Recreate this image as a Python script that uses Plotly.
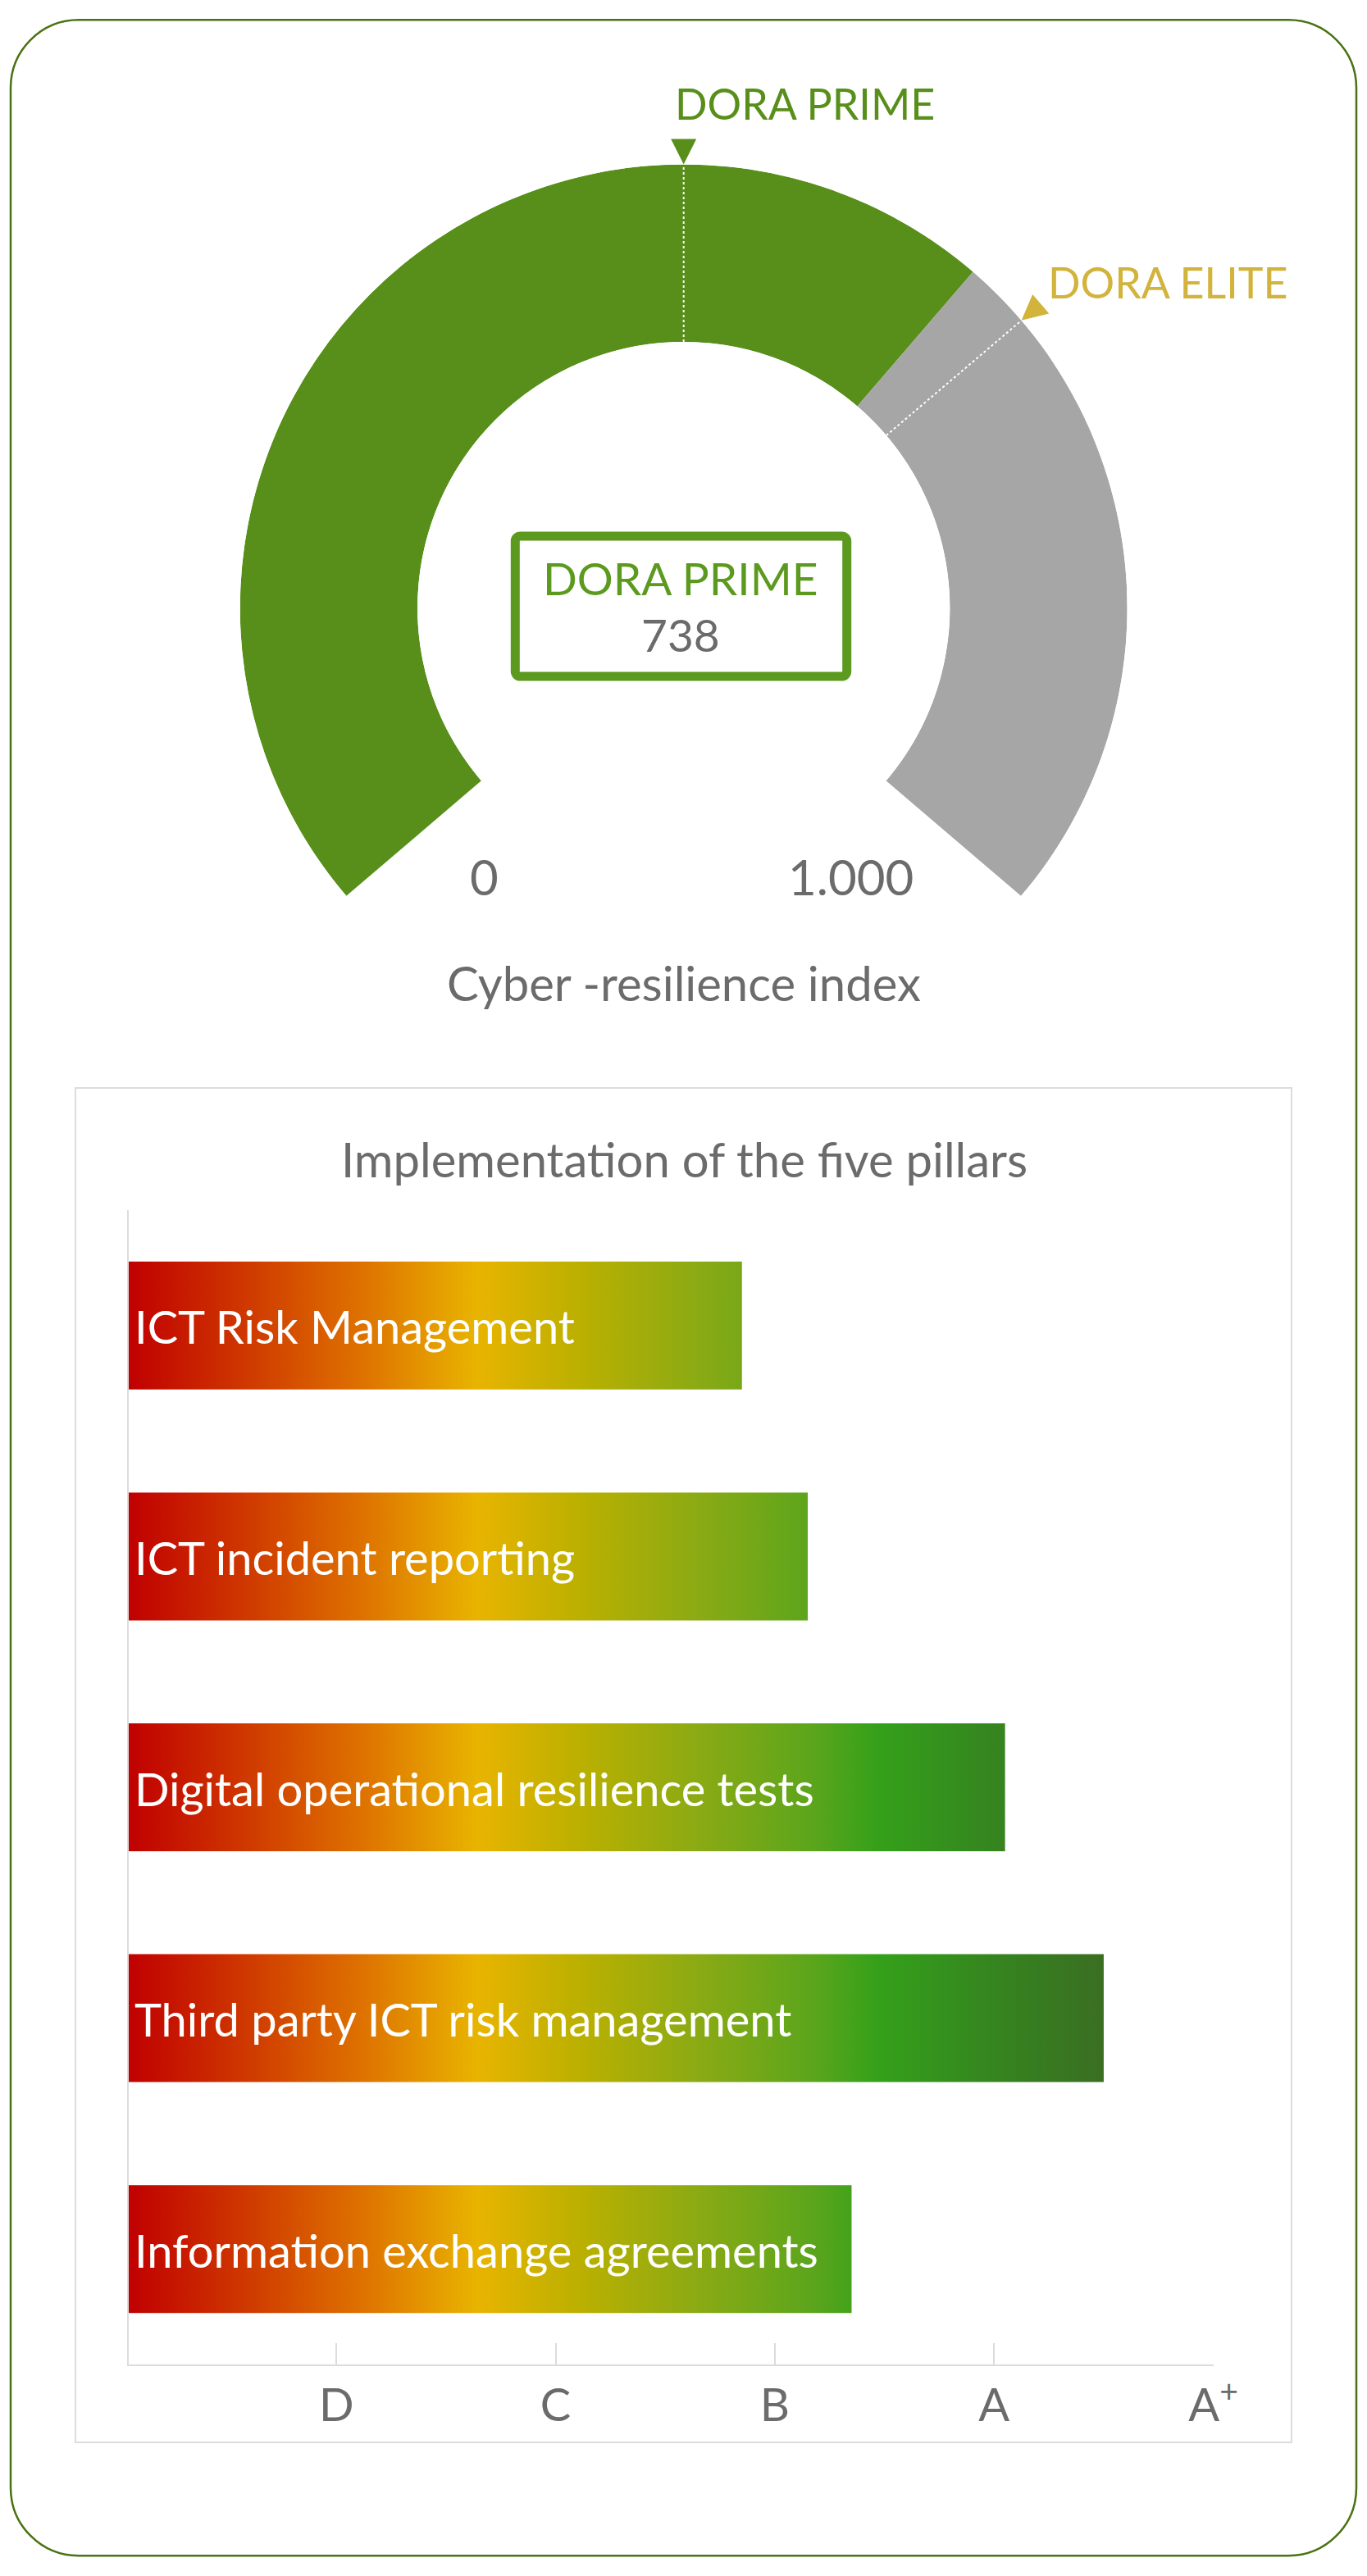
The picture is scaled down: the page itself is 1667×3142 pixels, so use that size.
import plotly.graph_objects as go

# ---------------- data ----------------
gauge_min = 0
gauge_max = 1000
score = 738
score_label = "DORA PRIME"
gauge_fill_end = 656          # extent of the green arc as drawn
prime_threshold = 500
elite_threshold = 690
prime_label = "DORA PRIME"
elite_label = "DORA ELITE"
gauge_axis_labels = ["0", "1.000"]
gauge_title = "Cyber -resilience index"

pillars = [
    "ICT Risk Management",
    "ICT incident reporting",
    "Digital operational resilience tests",
    "Third party ICT risk management",
    "Information exchange agreements",
]
pillar_scores = [2.85, 3.15, 4.05, 4.50, 3.35]
grade_vals = [1, 2, 3, 4, 5]
grade_labels = ["D", "C", "B", "A", "A<sup>+</sup>"]
bars_title = "Implementation of the five pillars"

# ---------------- style ----------------
W, H = 1667, 3142
FONT = "Lato"
GREEN = "#588f1a"
BOX_GREEN = "#5c9a1f"
GRAY = "#a6a6a6"
GOLD = "#d2b33c"
TXT = "#6b6b6b"
BORDER = "#4a7212"
PANEL = "#dcdcdc"

GAUGE_START = 220.5   # math angle (deg) of gauge_min
GAUGE_SPAN = 261.0    # degrees covered by gauge


def px(x):
    return x / W


def py(y):
    return 1 - y / H


def th(v):
    return (v - gauge_min) * GAUGE_SPAN / (gauge_max - gauge_min)


def rounded_rect(x0, y0, x1, y1, r):
    k = 0.5523

    def P(x, y):
        return f"{px(x):.6f},{py(y):.6f}"
    d = f"M{P(x0 + r, y0)} L{P(x1 - r, y0)} "
    d += f"C{P(x1 - r + k * r, y0)} {P(x1, y0 + r - k * r)} {P(x1, y0 + r)} "
    d += f"L{P(x1, y1 - r)} "
    d += f"C{P(x1, y1 - r + k * r)} {P(x1 - r + k * r, y1)} {P(x1 - r, y1)} "
    d += f"L{P(x0 + r, y1)} "
    d += f"C{P(x0 + r - k * r, y1)} {P(x0, y1 - r + k * r)} {P(x0, y1 - r)} "
    d += f"L{P(x0, y0 + r)} "
    d += f"C{P(x0, y0 + r - k * r)} {P(x0 + r - k * r, y0)} {P(x0 + r, y0)} Z"
    return d


fig = go.Figure()

# ---------------- gauge ----------------
fig.add_trace(go.Barpolar(
    theta=[th((gauge_min + gauge_fill_end) / 2), th((gauge_fill_end + gauge_max) / 2)],
    width=[th(gauge_fill_end) - th(gauge_min), th(gauge_max) - th(gauge_fill_end)],
    r=[1, 1],
    marker=dict(color=[GREEN, GRAY], line=dict(width=0)),
    subplot="polar", hoverinfo="skip", showlegend=False,
))
for thr in (prime_threshold, elite_threshold):
    fig.add_trace(go.Scatterpolar(
        theta=[th(thr), th(thr)], r=[0, 1], mode="lines",
        line=dict(color="white", width=2, dash="dot"),
        subplot="polar", hoverinfo="skip", showlegend=False,
    ))
for thr, col in ((prime_threshold, GREEN), (elite_threshold, GOLD)):
    math_angle = GAUGE_START - th(thr)
    fig.add_trace(go.Scatterpolar(
        theta=[th(thr)], r=[1], mode="markers",
        marker=dict(symbol="arrow-down", size=31, color=col, angle=90 - math_angle,
                    line=dict(width=0)),
        cliponaxis=False, subplot="polar", hoverinfo="skip", showlegend=False,
    ))

cx, cy, R = 833.7, 741.5, 541.0

# ---------------- bars ----------------
x_min, x_max = 0.053, 5.0
label_x = 0.072
half = 0.277
bar_scale = [
    [0.00, "#c00000"],
    [0.12, "#cf3800"],
    [0.24, "#de7200"],
    [0.357, "#e8b400"],
    [0.46, "#bcb000"],
    [0.585, "#8aaa14"],
    [0.70, "#5ca51c"],
    [0.77, "#34a01a"],
    [0.88, "#35861f"],
    [1.00, "#3a6e22"],
]
grad_stop = max(pillar_scores)
for i, (name, val) in enumerate(zip(pillars, pillar_scores)):
    fig.add_trace(go.Scatter(
        x=[0, val, val, 0, 0], y=[i - half, i - half, i + half, i + half, i - half],
        mode="none", fill="toself",
        fillgradient=dict(type="horizontal", colorscale=bar_scale, start=x_min, stop=grad_stop),
        hoverinfo="skip", showlegend=False, xaxis="x", yaxis="y",
    ))

# ---------------- layout ----------------
shapes = [
    dict(type="path", xref="paper", yref="paper", path=rounded_rect(13, 24.3, 1654, 3117.3, 83),
         line=dict(color=BORDER, width=2.5), fillcolor="rgba(0,0,0,0)", layer="below"),
    dict(type="rect", xref="paper", yref="paper", x0=px(92), x1=px(1575), y0=py(1327), y1=py(2979),
         line=dict(color=PANEL, width=2), fillcolor="rgba(0,0,0,0)", layer="below"),
    dict(type="path", xref="paper", yref="paper", path=rounded_rect(628.3, 654, 1032.7, 825, 6),
         line=dict(color=BOX_GREEN, width=11), fillcolor="white"),
]

ann = []


def A(text, x, y, size, color, xanchor="center"):
    ann.append(dict(text=text, x=px(x), y=py(y), xref="paper", yref="paper",
                    xanchor=xanchor, yanchor="middle", showarrow=False,
                    font=dict(family=FONT, size=size, color=color)))


A(prime_label, 821, 126, 52, GREEN, "left")
A(elite_label, 1276, 344, 52, GOLD, "left")
A(score_label, 830, 705, 55, BOX_GREEN)
A(f"{score}", 830, 774, 55, TXT)
A(gauge_axis_labels[0], 590, 1069, 60, TXT)
A(gauge_axis_labels[1], 1037, 1069, 60, TXT)
A(gauge_title, 834, 1198, 58, TXT)
A(bars_title, 834, 1413, 58, TXT)

# bar labels, placed through the bar axes
for i, name in enumerate(pillars):
    ann.append(dict(text=name, x=label_x, y=i, xref="x", yref="y",
                    xanchor="left", yanchor="middle", yshift=-1, showarrow=False,
                    font=dict(family=FONT, size=56, color="white")))

fig.update_layout(
    width=W, height=H, margin=dict(l=0, r=0, t=0, b=0, autoexpand=False),
    paper_bgcolor="white", plot_bgcolor="rgba(0,0,0,0)",
    showlegend=False, shapes=shapes, annotations=ann,
    font=dict(family=FONT, color=TXT),
    polar=dict(
        domain=dict(x=[px(cx - R), px(cx + R)], y=[py(cy + R), py(cy - R)]),
        hole=0.6, bgcolor="rgba(0,0,0,0)",
        radialaxis=dict(visible=False, range=[0, 1]),
        angularaxis=dict(visible=False, rotation=GAUGE_START, direction="clockwise",
                         thetaunit="degrees"),
    ),
    xaxis=dict(
        domain=[px(157), px(1479.6)], range=[x_min, x_max],
        showline=True, linecolor=PANEL, linewidth=2,
        ticks="inside", ticklen=26, tickwidth=2, tickcolor=PANEL,
        tickvals=grade_vals, ticktext=grade_labels,
        tickfont=dict(family=FONT, size=56, color=TXT),
        showgrid=False, zeroline=False, fixedrange=True, automargin=False,
    ),
    yaxis=dict(
        domain=[py(2884), py(1476)], range=[len(pillars) - 0.5, -0.5],
        showline=True, linecolor=PANEL, linewidth=2,
        showticklabels=False, ticks="", showgrid=False, zeroline=False, fixedrange=True,
        automargin=False,
    ),
)

fig.write_html("out.html", config={"displayModeBar": False},
               post_script="document.body.style.margin='0';")
